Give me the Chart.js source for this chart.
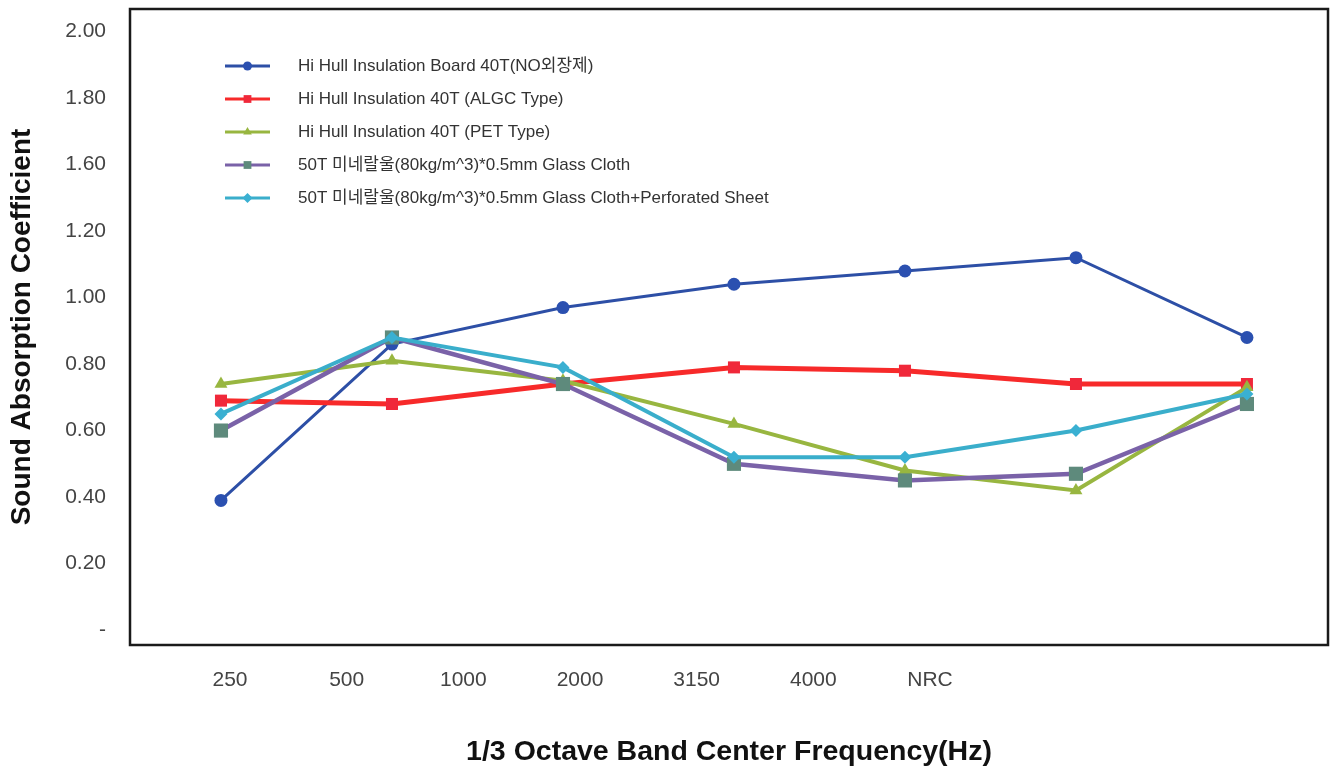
<!DOCTYPE html>
<html>
<head>
<meta charset="utf-8">
<script src="https://cdn.jsdelivr.net/npm/chart.js@4.4.1/dist/chart.umd.min.js"></script>
<style>
  html, body { margin: 0; padding: 0; background: #fff; overflow: hidden; }
  #wrap { width: 1333px; height: 773px; }
  canvas { display: block; }
</style>
</head>
<body>
<div id="wrap"><canvas id="absorptionChart" width="1333" height="773"></canvas></div>
<script>
// --- Data ---
const categories = ["250", "500", "1000", "2000", "3150", "4000", "NRC"];
const yTickLabels = ["-", "0.20", "0.40", "0.60", "0.80", "1.00", "1.20", "1.60", "1.80", "2.00"];
const yTickStep = 0.2;

const seriesNames = [
  "Hi Hull Insulation Board 40T(NO외장제)",
  "Hi Hull Insulation 40T (ALGC Type)",
  "Hi Hull Insulation 40T (PET Type)",
  "50T 미네랄울(80kg/m^3)*0.5mm Glass Cloth",
  "50T 미네랄울(80kg/m^3)*0.5mm Glass Cloth+Perforated Sheet",
];
const boardNoCover = [0.39, 0.86, 0.97, 1.04, 1.08, 1.12, 0.88];
const algcType = [0.69, 0.68, 0.74, 0.79, 0.78, 0.74, 0.74];
const petType = [0.74, 0.81, 0.75, 0.62, 0.48, 0.42, 0.73];
const glassCloth = [0.60, 0.88, 0.74, 0.50, 0.45, 0.47, 0.68];
const glassClothPerf = [0.65, 0.88, 0.79, 0.52, 0.52, 0.60, 0.71];

const sans = "'Liberation Sans', Arial, 'Noto Sans CJK KR', sans-serif";

// points sit at integer positions; the printed frequency labels are offset on their own axis
const toPoints = (values) => values.map((v, i) => ({ x: i, y: v }));

const styles = [
  { line: "#2d4fa6", mark: "#2b50b0", shape: "circle", r: 6.5, lr: 4.5, w: 3, order: 4 },
  { line: "#f72a2a", mark: "#f0283a", shape: "rect", r: 8.5, lr: 5.5, w: 5, order: 3 },
  { line: "#98b640", mark: "#98b640", shape: "triangle", r: 7.5, lr: 5, w: 4, order: 2 },
  { line: "#7a62a8", mark: "#5e8a7c", shape: "rect", r: 10, lr: 5.5, w: 4.5, order: 1 },
  { line: "#3aaecb", mark: "#3ab0d2", shape: "rectRot", r: 6.5, lr: 5, w: 4, order: 0 },
];
const seriesValues = [boardNoCover, algcType, petType, glassCloth, glassClothPerf];

const datasets = seriesValues.map((vals, i) => ({
  label: seriesNames[i],
  data: toPoints(vals),
  xAxisID: "x",
  yAxisID: "y",
  borderColor: styles[i].line,
  backgroundColor: styles[i].mark,
  borderWidth: styles[i].w,
  pointStyle: styles[i].shape,
  pointRadius: styles[i].r,
  pointBorderWidth: 0,
  pointBackgroundColor: styles[i].mark,
  tension: 0,
  order: styles[i].order,
}));

// frame around the plot area
const framePlugin = {
  id: "frame",
  afterDraw(chart) {
    const { ctx, chartArea: a } = chart;
    ctx.save();
    ctx.strokeStyle = "#1a1a1a";
    ctx.lineWidth = 2.5;
    ctx.strokeRect(a.left, a.top, a.right - a.left, a.bottom - a.top);
    ctx.restore();
  },
};

// vertical legend drawn inside the plot, top left
const insideLegend = {
  id: "insideLegend",
  afterDatasetsDraw(chart) {
    const { ctx } = chart;
    const x0 = 225, x1 = 270, textX = 298, top = 66, gap = 33;
    ctx.save();
    chart.data.datasets.forEach((ds, i) => {
      const y = top + i * gap;
      ctx.strokeStyle = ds.borderColor;
      ctx.lineWidth = 3;
      ctx.beginPath();
      ctx.moveTo(x0, y);
      ctx.lineTo(x1, y);
      ctx.stroke();
      ctx.fillStyle = ds.pointBackgroundColor;
      Chart.helpers.drawPoint(ctx, { pointStyle: ds.pointStyle, radius: styles[i].lr, borderWidth: 0 }, (x0 + x1) / 2, y);
      ctx.fillStyle = "#333";
      ctx.font = "17px " + sans;
      ctx.textBaseline = "middle";
      ctx.fillText(ds.label, textX, y);
    });
    ctx.restore();
  },
};

new Chart(document.getElementById("absorptionChart"), {
  type: "line",
  data: { datasets },
  options: {
    responsive: false,
    animation: false,
    layout: { autoPadding: false, padding: { top: 9, right: 5 } },
    plugins: { legend: { display: false }, tooltip: { enabled: false } },
    scales: {
      x: { type: "linear", min: -0.532, max: 6.474, display: false },
      x2: {
        type: "linear",
        position: "bottom",
        min: -0.857,
        max: 9.411,
        grid: { display: false, drawTicks: false },
        border: { display: false },
        afterBuildTicks: (s) => { s.ticks = categories.map((_, i) => ({ value: i })); },
        afterFit: (s) => { s.height = 128; s.paddingLeft = 0; s.paddingRight = 0; },
        ticks: {
          autoSkip: false,
          maxRotation: 0,
          padding: 23,
          color: "#444",
          font: { family: sans, size: 21 },
          callback: (v, i) => categories[i],
        },
        title: {
          display: true,
          text: "1/3 Octave Band Center Frequency(Hz)",
          color: "#111",
          font: { family: sans, size: 28.5, weight: "bold" },
          padding: { top: 0, bottom: 4 },
        },
      },
      y: {
        min: -0.045,
        max: 1.868,
        grid: { display: false, drawTicks: false },
        border: { display: false },
        afterBuildTicks: (s) => { s.ticks = yTickLabels.map((_, i) => ({ value: i * yTickStep })); },
        afterFit: (s) => { s.width = 130; s.paddingTop = 0; s.paddingBottom = 0; },
        ticks: {
          padding: 24,
          color: "#444",
          font: { family: sans, size: 21 },
          callback: (v, i) => yTickLabels[i],
        },
        title: {
          display: true,
          text: "Sound Absorption Coefficient",
          color: "#111",
          font: { family: sans, size: 28, weight: "bold" },
          padding: { top: 5, bottom: 0 },
        },
      },
    },
  },
  plugins: [framePlugin, insideLegend],
});
</script>
</body>
</html>
